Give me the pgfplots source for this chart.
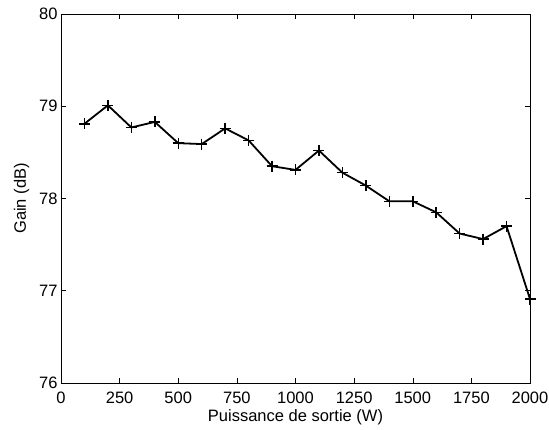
\documentclass[border=0pt]{standalone}
\usepackage{fontspec}
\setmainfont{Liberation Sans}
\usepackage{pgfplots}
\pgfplotsset{compat=1.18}
\begin{document}
\begin{tikzpicture}
\begin{axis}[
  name=ax,
  scale only axis,
  width=469pt, height=369pt,
  xmin=0, xmax=2000, ymin=76, ymax=80,
  xtick={0,250,...,2000}, ytick={76,77,78,79,80},
  tick align=inside, major tick length=5pt,
  tick style={black, line width=0.5pt},
  axis line style={line width=0.6pt},
  tick label style={font=\fontsize{16.5pt}{19pt}\selectfont},
  label style={font=\fontsize{16.5pt}{19pt}\selectfont},
  /pgf/number format/assume math mode=true,
  /pgf/number format/1000 sep={},
  xlabel={Puissance de sortie (W)},
  ylabel={Gain (dB)},
  xlabel style={yshift=1pt},
  ylabel style={yshift=3pt},
  xticklabel style={yshift=-5pt},
]
\addplot[black, line width=1.8pt, mark=+, mark size=5.5pt, mark options={line width=1.5pt}] coordinates {
(100,78.81) (200,79.01) (300,78.77) (400,78.83) (500,78.60) (600,78.59)
(700,78.76) (800,78.63) (900,78.35) (1000,78.31) (1100,78.52) (1200,78.28)
(1300,78.14) (1400,77.97) (1500,77.97) (1600,77.85) (1700,77.62) (1800,77.56)
(1900,77.70) (2000,76.91)
};
\end{axis}
\pgfresetboundingbox
\path[use as bounding box] ([shift={(-61pt,-47pt)}]ax.south west) rectangle ([shift={(19pt,14pt)}]ax.north east);
\end{tikzpicture}
\end{document}
